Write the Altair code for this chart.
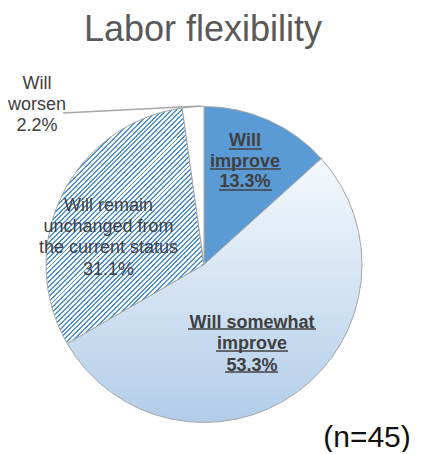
import altair as alt
import pandas as pd

# ---- data ----
categories = [
    "Will improve",
    "Will somewhat improve",
    "Will remain unchanged from the current status",
    "Will worsen",
]
label_lines = [
    "Will\nimprove",
    "Will somewhat\nimprove",
    "Will remain\nunchanged from\nthe current status",
    "Will\nworsen",
]
shares = [13.3, 53.3, 31.1, 2.2]
slice_order = [1, 2, 3, 4]
title_text = "Labor flexibility"
sample_note = "(n=45)"

df = pd.DataFrame({"category": categories, "label": label_lines,
                   "share": shares, "order": slice_order})

# ---- layout ----
W, H = 408, 444
CX, CY, R = 196, 256.5, 158
FONT = "Liberation Sans"
LABEL_COLOR = "#404040"
EDGE = "#a6a6a6"

# fills
solid_blue = "#5b9bd5"
soft_gradient = {
    "gradient": "linear", "x1": 0, "y1": 0, "x2": 0, "y2": 1,
    "stops": [{"offset": 0, "color": "#f4f8fc"},
              {"offset": 0.5, "color": "#d3e3f3"},
              {"offset": 1, "color": "#b2cde9"}],
}
n_stripes = 70
hatch_stops = []
for k in range(n_stripes):
    t0 = k / n_stripes
    t1 = (k + 0.4) / n_stripes
    t2 = (k + 1) / n_stripes
    hatch_stops += [
        {"offset": round(t0, 5), "color": "#5095dc"},
        {"offset": round(t1, 5), "color": "#5095dc"},
        {"offset": round(t1, 5), "color": "#ffffff"},
        {"offset": round(t2, 5), "color": "#ffffff"},
    ]
hatch_gradient = {"gradient": "linear", "x1": 0, "y1": 0, "x2": 0.671, "y2": 1,
                  "stops": hatch_stops}
fills = {1: solid_blue, 2: soft_gradient, 3: hatch_gradient, 4: "#ffffff"}

base = alt.Chart(df).transform_window(
    cum="sum(share)", sort=[alt.SortField("order")], frame=[None, 0]
).transform_joinaggregate(
    total="sum(share)"
).transform_calculate(
    a0="(datum.cum - datum.share) / datum.total",
    a1="datum.cum / datum.total",
    txt="datum.label + '\\n' + format(datum.share, '.1f') + '%'",
)

theta_scale = alt.Scale(domain=[0, 1], range=[0, 6.283185307179586])

layers = []
for i in slice_order:
    layers.append(
        base.transform_filter(alt.datum.order == i).mark_arc(
            radius=R, fill=fills[i], stroke=EDGE, strokeWidth=1
        ).encode(
            theta=alt.Theta("a0:Q", scale=theta_scale),
            theta2="a1:Q",
            x=alt.value(CX), y=alt.value(CY),
        )
    )

# leader line for "Will worsen"
one = pd.DataFrame({"t": [title_text], "n": [sample_note]})
layers.append(
    alt.Chart(one).mark_rule(color=EDGE, strokeWidth=1.5).encode(
        x=alt.value(55), y=alt.value(105), x2=alt.value(193), y2=alt.value(98)
    )
)

# slice labels: (order, x, y of first line, bold, lineHeight)
label_pos = [
    (1, 237, 133, True, 20.5),
    (2, 244, 314.5, True, 21.5),
    (3, 100.5, 198, False, 21.2),
    (4, 29, 75.5, False, 21),
]
for i, lx, ly, bold, lh in label_pos:
    layers.append(
        base.transform_filter(alt.datum.order == i).mark_text(
            font=FONT, fontSize=18, fontWeight="bold" if bold else "normal",
            color=LABEL_COLOR, lineBreak="\n", lineHeight=lh,
            align="center", baseline="middle",
        ).encode(text="txt:N", x=alt.value(lx), y=alt.value(ly))
    )

# underlines of the bold labels (decoration)
underlines = [
    (221, 254, 141), (202, 273, 161), (211, 264, 182),
    (180, 308, 321), (208, 280, 343), (217, 270, 364),
]
for a, b, y in underlines:
    layers.append(
        alt.Chart(one).mark_rule(color=LABEL_COLOR, strokeWidth=1.3).encode(
            x=alt.value(a), x2=alt.value(b), y=alt.value(y)
        )
    )

# title and sample size
layers.append(
    alt.Chart(one).mark_text(font=FONT, fontSize=36, color="#595959",
                             align="center", baseline="alphabetic").encode(
        text="t:N", x=alt.value(195), y=alt.value(33))
)
layers.append(
    alt.Chart(one).mark_text(font=FONT, fontSize=30, color="#111111",
                             align="center", baseline="alphabetic").encode(
        text="n:N", x=alt.value(359), y=alt.value(439))
)

chart = alt.layer(*layers).properties(
    width=W, height=H, autosize="none", padding=0
).configure_view(stroke=None)

chart.save("out.html", embed_options={"renderer": "svg", "actions": False})
